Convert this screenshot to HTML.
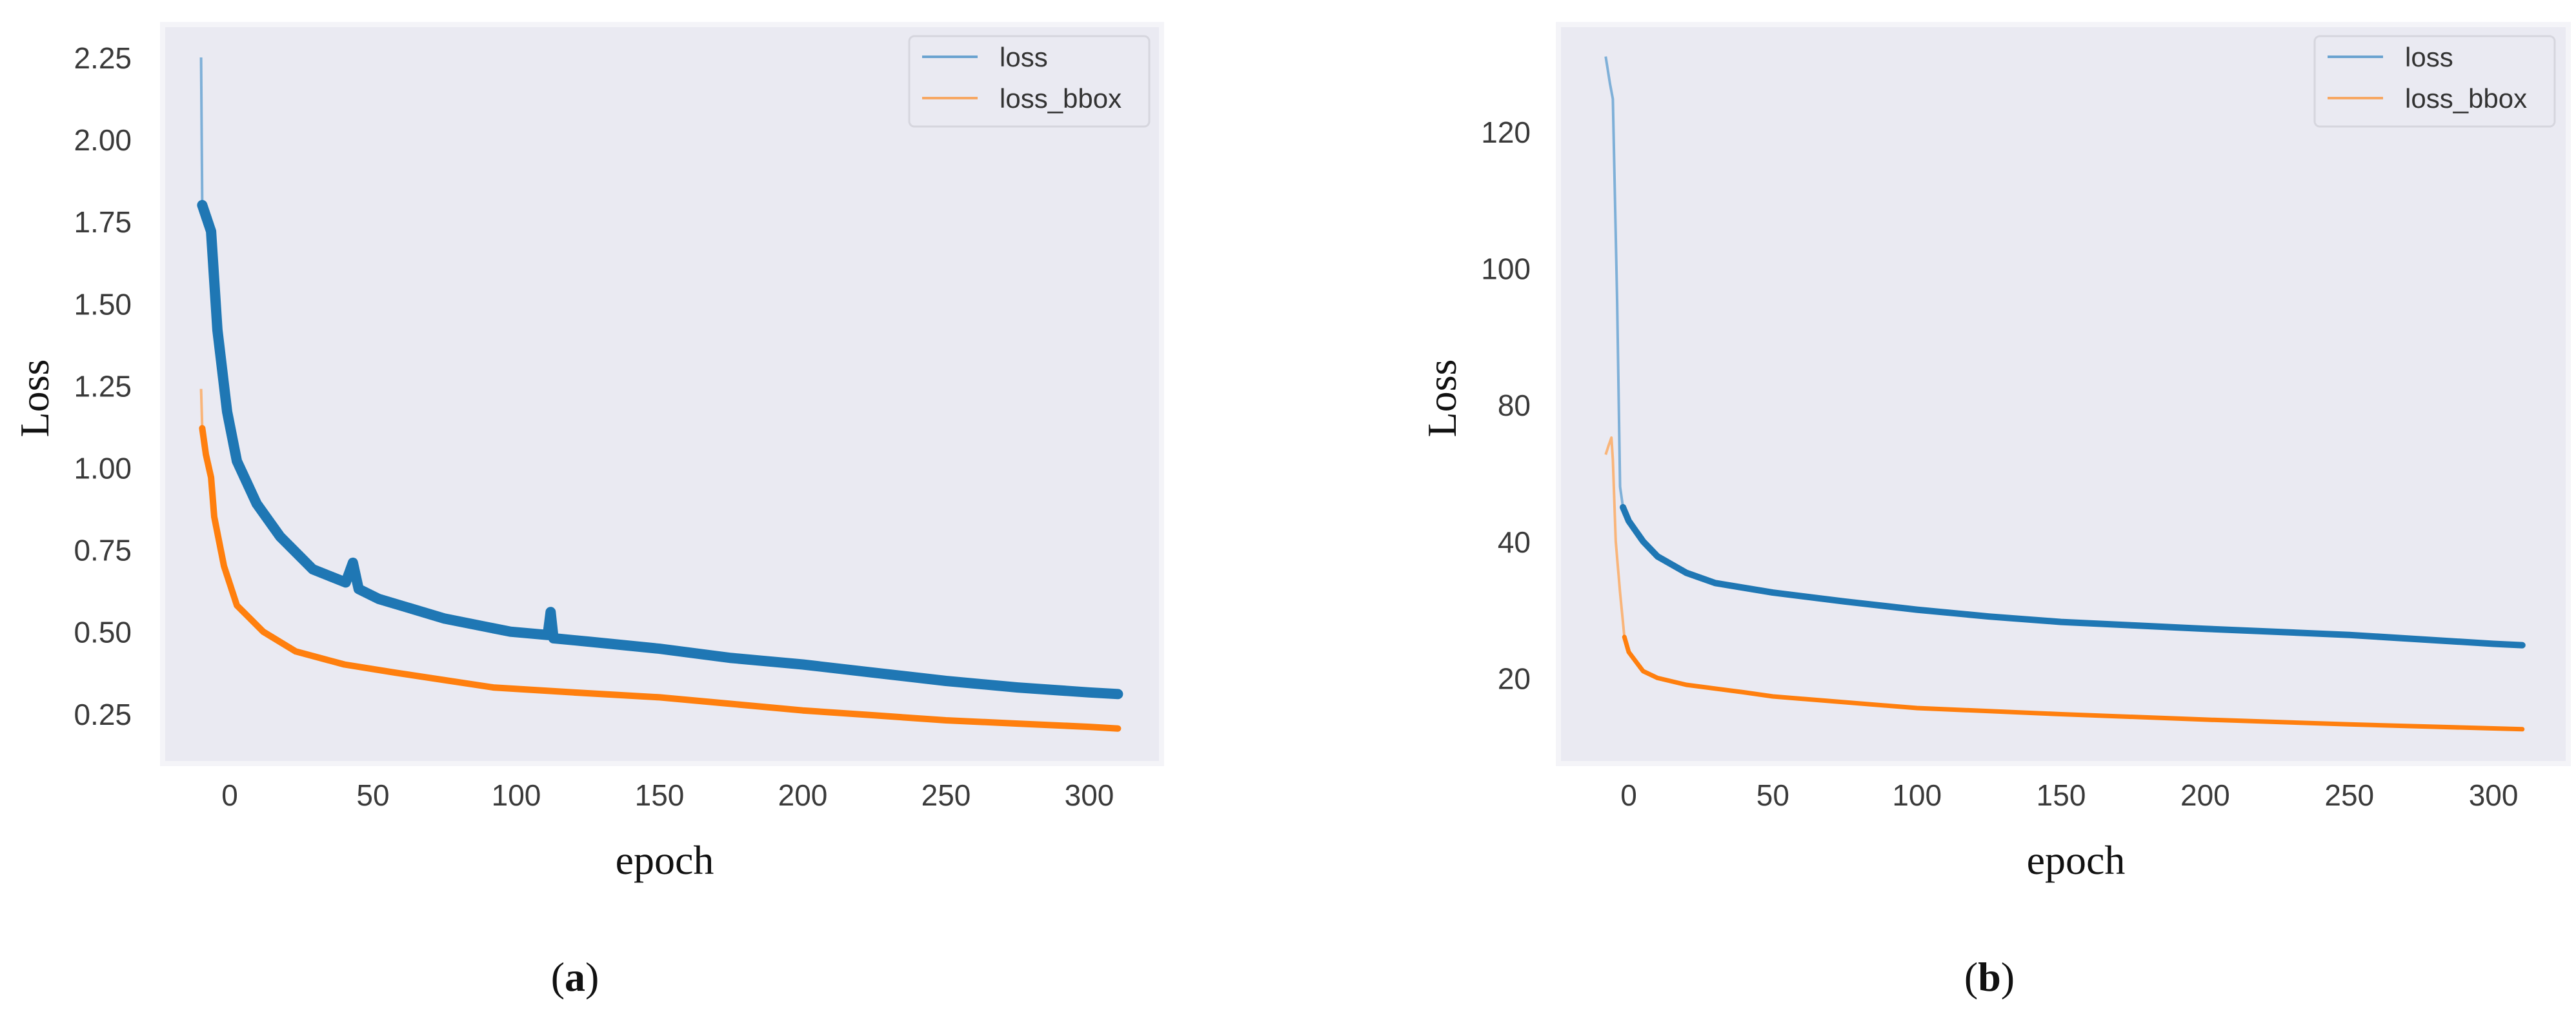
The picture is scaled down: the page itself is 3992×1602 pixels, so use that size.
<!DOCTYPE html>
<html><head><meta charset="utf-8">
<style>
html,body{margin:0;padding:0;background:#fff;}
svg{display:block;}
.tick{font-family:"Liberation Sans",sans-serif;font-size:46px;fill:#3a3a3a;}
.axl{font-family:"Liberation Serif",serif;font-size:64px;fill:#111;}
.leg{font-family:"Liberation Sans",sans-serif;font-size:42px;fill:#333;}
</style></head>
<body>
<svg id="fig" width="3992" height="1602" viewBox="0 0 3992 1602" xmlns="http://www.w3.org/2000/svg"></svg>
<script>
// ---- Panel (a) data ----
const aXTicks = [0, 50, 100, 150, 200, 250, 300];
const aYTicks = [0.25, 0.5, 0.75, 1.0, 1.25, 1.5, 1.75, 2.0, 2.25];
const aYTickLabels = ["0.25", "0.50", "0.75", "1.00", "1.25", "1.50", "1.75", "2.00", "2.25"];
const aEpochsLoss = [-10, -9.6, -6.5, -4.3, -0.9, 2.5, 9.4, 17.6, 29, 40.5, 43, 45, 52, 75, 98, 111, 112, 113, 125, 150, 175, 200, 225, 250, 275, 300, 310];
const aLoss = [2.25, 1.80, 1.72, 1.42, 1.17, 1.02, 0.89, 0.79, 0.69, 0.65, 0.71, 0.63, 0.60, 0.54, 0.50, 0.49, 0.56, 0.48, 0.47, 0.448, 0.42, 0.40, 0.375, 0.35, 0.33, 0.315, 0.31];
const aEpochsBbox = [-10, -9.6, -8.3, -6.5, -5.4, -2, 2.5, 11.7, 23, 40, 58, 92, 120, 150, 175, 200, 225, 250, 275, 300, 310];
const aBbox = [1.24, 1.12, 1.04, 0.97, 0.85, 0.70, 0.58, 0.50, 0.44, 0.40, 0.375, 0.33, 0.315, 0.30, 0.28, 0.26, 0.245, 0.23, 0.22, 0.21, 0.205];

// ---- Panel (b) data ----
const bXTicks = [0, 50, 100, 150, 200, 250, 300];
const bYTicks = [120, 100, 80, 60, 40];
const bYTickLabels = ["120", "100", "80", "40", "20"];
const bEpochsLoss = [-8, -6.5, -5.5, -4, -3, -2, 0, 5, 10, 20, 30, 50, 75, 100, 125, 150, 175, 200, 250, 300, 310];
const bLoss = [131, 127, 124.8, 95, 68, 65, 63, 60, 57.8, 55.4, 53.9, 52.5, 51.2, 50, 49, 48.2, 47.7, 47.2, 46.3, 45, 44.8];
const bEpochsBbox = [-8, -7, -6, -5.5, -4.5, -3, -1.5, 0, 5, 10, 20, 40, 50, 100, 150, 200, 250, 310];
const bBbox = [72.7, 74, 75.2, 72, 60, 52.5, 46, 43.8, 41, 40, 39, 37.9, 37.3, 35.6, 34.7, 33.9, 33.2, 32.5];

const NS = "http://www.w3.org/2000/svg";
const svg = document.getElementById('fig');
function mk(tag, attrs, parent) {
  const e = document.createElementNS(NS, tag);
  for (const k in attrs) e.setAttribute(k, attrs[k]);
  (parent || svg).appendChild(e);
  return e;
}

function panel(cfg) {
  const g = mk('g', {});
  
  
  const bg = mk('rect', {x: cfg.left, y: cfg.top, width: cfg.right - cfg.left, height: cfg.bottom - cfg.top, fill: '#eaeaf2', stroke: '#f4f4f8', 'stroke-width': 8}, g);
  
  
  const sx = v => cfg.x0 + v * cfg.xs;
  const sy = v => cfg.y0 + (cfg.yv0 - v) * cfg.ys;
  cfg.xTicks.forEach(t => {
    const tx = mk('text', {x: sx(t), y: 1248, 'text-anchor': 'middle', class: 'tick'}, g);
    tx.textContent = String(t);
    
    
  });
  cfg.yTicks.forEach((t, i) => {
    const ty = mk('text', {x: cfg.ytx, y: sy(t) + 17, 'text-anchor': 'end', class: 'tick'}, g);
    ty.textContent = cfg.yLabels[i];
    
    
  });
  function series(xs, ys, color, light, w, name, split) {
    const pts = xs.map((x, i) => sx(x).toFixed(1) + ',' + sy(ys[i]).toFixed(1));
    const p1 = mk('polyline', {points: pts.slice(0, split + 1).join(' '), fill: 'none', stroke: light, 'stroke-width': 4, 'stroke-linejoin': 'round'}, g);
    
    
    const p2 = mk('polyline', {points: pts.slice(split).join(' '), fill: 'none', stroke: color, 'stroke-width': w, 'stroke-linejoin': 'round', 'stroke-linecap': 'round'}, g);
    
    
  }
  series(cfg.lx, cfg.ly, '#1f77b4', '#7fb0d8', cfg.wl, 'loss', cfg.splitL);
  series(cfg.bx, cfg.by, '#ff7f0e', '#f9b57a', cfg.wb, 'loss-bbox', cfg.splitB);
  const L = cfg.leg;
  const lb = mk('rect', {x: L, y: 56, width: 372, height: 140, rx: 8, fill: '#eaeaf2', stroke: '#d6d6de', 'stroke-width': 3}, g);
  
  
  [['loss', '#6aa3d0', 88], ['loss_bbox', '#f7a864', 152]].forEach(([t, c, y]) => {
    const ln = mk('line', {x1: L + 20, x2: L + 106, y1: y, y2: y, stroke: c, 'stroke-width': 4}, g);
    
    
    const lt = mk('text', {x: L + 140, y: y + 15, class: 'leg'}, g);
    lt.textContent = t;
    
    
  });
  const yl = mk('text', {x: 0, y: 0, 'text-anchor': 'middle', class: 'axl', transform: `translate(${cfg.ylx},617) rotate(-90)`}, g);
  yl.textContent = 'Loss';
  
  
  const xl = mk('text', {x: cfg.xlx, y: 1354, 'text-anchor': 'middle', class: 'axl'}, g);
  xl.textContent = 'epoch';
  
  
  const cap = mk('text', {x: cfg.capx, y: 1535, 'text-anchor': 'middle', class: 'axl'}, g);
  cap.innerHTML = '(<tspan font-weight="bold">' + cfg.cap + '</tspan>)';
  
  
}

panel({name: 'panel-a', left: 252, right: 1800, top: 38, bottom: 1183,
  x0: 356, xs: 4.44, y0: 89, yv0: 2.25, ys: 508.4,
  xTicks: aXTicks, yTicks: aYTicks, yLabels: aYTickLabels, ytx: 204,
  lx: aEpochsLoss, ly: aLoss, bx: aEpochsBbox, by: aBbox, wl: 16, wb: 10, splitL: 1, splitB: 1,
  leg: 1409, ylx: 75, xlx: 1030, capx: 891, cap: 'a'});
panel({name: 'panel-b', left: 2415, right: 3980, top: 38, bottom: 1183,
  x0: 2524, xs: 4.467, y0: 204, yv0: 120, ys: 10.58,
  xTicks: bXTicks, yTicks: bYTicks, yLabels: bYTickLabels, ytx: 2372,
  lx: bEpochsLoss, ly: bLoss, bx: bEpochsBbox, by: bBbox, wl: 10, wb: 7, splitL: 5, splitB: 6,
  leg: 3587, ylx: 2256, xlx: 3217, capx: 3083, cap: 'b'});
</script>
</body></html>
